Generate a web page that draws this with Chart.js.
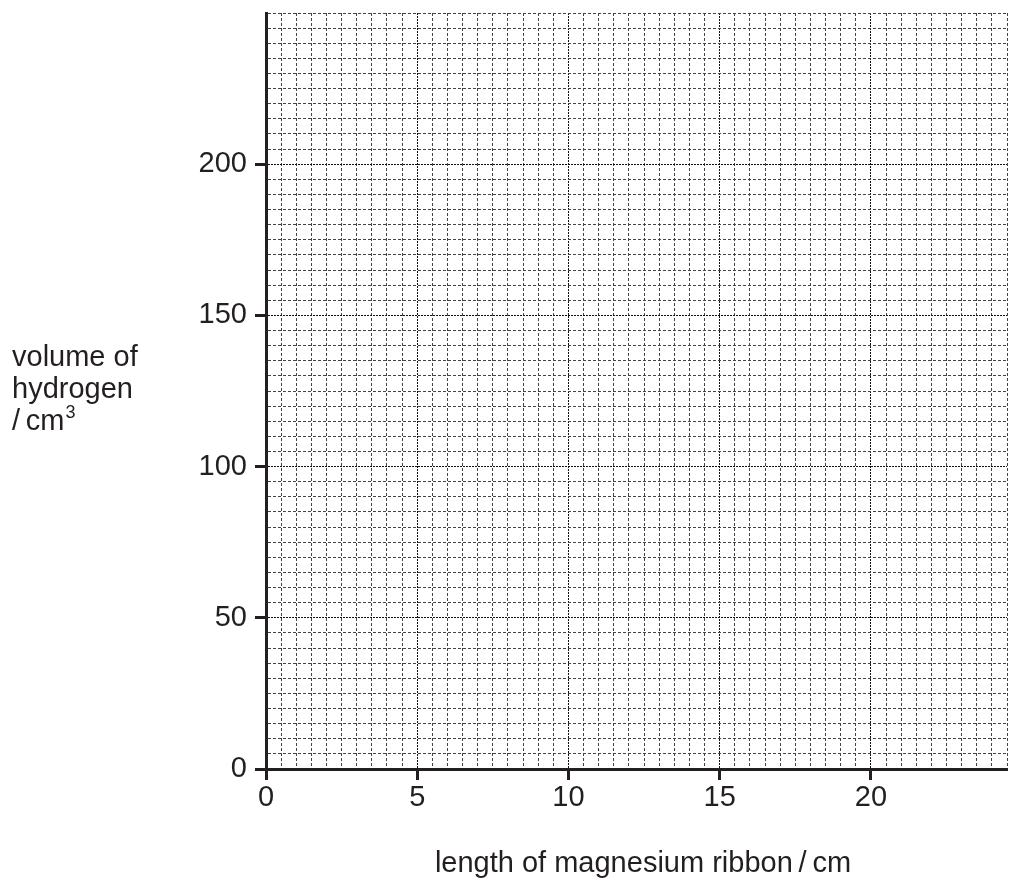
<!DOCTYPE html>
<html>
<head>
<meta charset="utf-8">
<script src="https://cdn.jsdelivr.net/npm/chart.js@4.4.1/dist/chart.umd.min.js"></script>
<style>
html, body { margin:0; padding:0; background:#fff; }
</style>
</head>
<body>
<canvas id="graph" width="1012" height="883"></canvas>
<script>
// axis ranges, grid spacing and labelled ticks
const xRange = [0, 24.5];
const yRange = [0, 250];
const xGridStep = 0.5;
const yGridStep = 5;
const xLabelled = [0, 5, 10, 15, 20];
const yLabelled = [0, 50, 100, 150, 200];
const xTitle = 'length of magnesium ribbon\u2009/\u2009cm';
const yTitle = ['volume of', 'hydrogen', '/\u2009cm'];
const ySup = '3';
// blank graph paper, nothing plotted yet
const points = [];

const ink = '#231f20';
const font = '"Liberation Sans", Arial, sans-serif';

function isMajor(ctx, list) {
    if (!ctx || !ctx.tick) return false;
    return list.some(v => Math.abs(v - ctx.tick.value) < 1e-6);
}

function axis(range, step, labelled) {
    return {
        type: 'linear',
        min: range[0],
        max: range[1],
        ticks: {
            stepSize: step,
            maxTicksLimit: 1000,
            autoSkip: false,
            maxRotation: 0,
            padding: 8,
            color: ink,
            font: { family: font, size: 29 },
            callback: v => labelled.some(l => Math.abs(l - v) < 1e-6) ? String(v) : ''
        },
        grid: {
            color: c => isMajor(c, labelled) ? '#111' : '#444',
            lineWidth: 1,
            tickLength: 11,
            tickWidth: 3,
            tickColor: c => isMajor(c, labelled) ? ink : 'rgba(0,0,0,0)',
            tickBorderDash: []
        },
        border: {
            display: true,
            color: ink,
            width: 3,
            dash: c => isMajor(c, labelled) ? [2, 1] : [3, 2]
        }
    };
}

const titles = {
    id: 'titles',
    afterDraw(chart) {
        const c = chart.ctx;
        c.save();
        c.fillStyle = ink;
        c.font = '29px ' + font;
        c.textBaseline = 'alphabetic';
        c.textAlign = 'left';
        const base = [366, 398, 430];
        yTitle.forEach((t, i) => c.fillText(t, 12, base[i]));
        const w = c.measureText(yTitle[2]).width;
        c.font = '18px ' + font;
        c.fillText(ySup, 12 + w + 1, base[2] - 12);
        c.font = '29px ' + font;
        c.textAlign = 'center';
        c.fillText(xTitle, 643, 872);
        c.restore();
    }
};

const xAxis = axis(xRange, xGridStep, xLabelled);
xAxis.ticks.padding = 1;
xAxis.afterFit = s => { s.height = 114; s.paddingLeft = 0; s.paddingRight = 0; };
const yAxis = axis(yRange, yGridStep, yLabelled);
yAxis.afterFit = s => { s.width = 266; s.paddingTop = 0; s.paddingBottom = 0; };

new Chart(document.getElementById('graph'), {
    type: 'scatter',
    data: {
        datasets: [{
            data: points,
            pointRadius: 4,
            backgroundColor: ink
        }]
    },
    options: {
        responsive: false,
        animation: false,
        devicePixelRatio: 1,
        layout: { padding: { top: 13, right: 5, left: 0, bottom: 0 } },
        plugins: {
            legend: { display: false },
            tooltip: { enabled: false }
        },
        scales: { x: xAxis, y: yAxis }
    },
    plugins: [titles]
});
</script>
</body>
</html>
